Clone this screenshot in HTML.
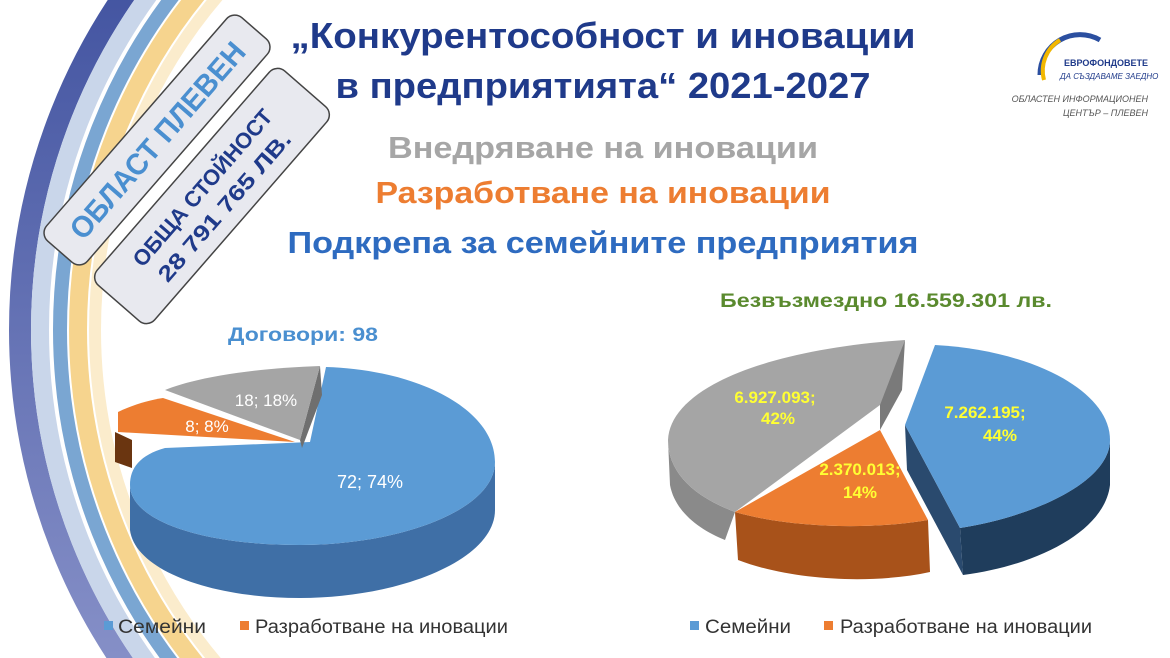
<!DOCTYPE html>
<html><head><meta charset="utf-8"><style>
html,body{margin:0;width:1170px;height:658px;overflow:hidden;background:#fff;font-family:"Liberation Sans",sans-serif}
svg{display:block}
</style></head><body>
<svg width="1170" height="658" viewBox="0 0 1170 658" xmlns="http://www.w3.org/2000/svg" font-family="Liberation Sans, sans-serif">
<defs>
<clipPath id="lc"><rect x="0" y="0" width="330" height="658"/></clipPath>
<linearGradient id="bg1" x1="0" y1="0" x2="0" y2="1"><stop offset="0" stop-color="#2b3f93"/><stop offset="1" stop-color="#9fa6d6"/></linearGradient>
</defs>
<g clip-path="url(#lc)" fill="none">
<circle cx="610" cy="330" r="590" stroke="url(#bg1)" stroke-width="22"/>
<circle cx="610" cy="330" r="570" stroke="#c9d6ea" stroke-width="18"/>
<circle cx="610" cy="330" r="550" stroke="#7aa6d2" stroke-width="14"/>
<circle cx="610" cy="330" r="532" stroke="#f6d48e" stroke-width="18"/>
<circle cx="610" cy="330" r="515" stroke="#fbeccc" stroke-width="12"/>
</g>
<g transform="translate(157,140) rotate(-49)">
<rect x="-148" y="-27" width="296" height="54" rx="11" fill="#e8e9ef" stroke="#444" stroke-width="1.5"/>
<text x="0" y="11" text-anchor="middle" font-size="30" font-weight="bold" fill="#4a8fd0" textLength="250" lengthAdjust="spacingAndGlyphs">ОБЛАСТ ПЛЕВЕН</text>
</g>
<g transform="translate(212,196) rotate(-49)">
<rect x="-142" y="-38" width="284" height="76" rx="11" fill="#e8e9ef" stroke="#444" stroke-width="1.5"/>
<text x="0" y="-5" text-anchor="middle" font-size="22" font-weight="bold" fill="#1f3a8a" textLength="200" lengthAdjust="spacingAndGlyphs">ОБЩА СТОЙНОСТ</text>
<text x="0" y="24" text-anchor="middle" font-size="22" font-weight="bold" fill="#1f3a8a" textLength="190" lengthAdjust="spacingAndGlyphs">28 791 765 ЛВ.</text>
</g>
<text x="603" y="48" text-anchor="middle" font-size="36" font-weight="bold" fill="#1f3a8a" textLength="625" lengthAdjust="spacingAndGlyphs">„Конкурентособност и иновации</text>
<text x="603" y="98" text-anchor="middle" font-size="36" font-weight="bold" fill="#1f3a8a" textLength="535" lengthAdjust="spacingAndGlyphs">в предприятията“ 2021-2027</text>
<text x="603" y="158" text-anchor="middle" font-size="31" font-weight="bold" fill="#a6a6a6" textLength="430" lengthAdjust="spacingAndGlyphs">Внедряване на иновации</text>
<text x="603" y="203" text-anchor="middle" font-size="31" font-weight="bold" fill="#ed7d31" textLength="455" lengthAdjust="spacingAndGlyphs">Разработване на иновации</text>
<text x="603" y="253" text-anchor="middle" font-size="31" font-weight="bold" fill="#2e6bc0" textLength="631" lengthAdjust="spacingAndGlyphs">Подкрепа за семейните предприятия</text>
<g>
<path d="M1040,75 A40,40 0 0 1 1100,40" fill="none" stroke="#2b4fa0" stroke-width="5"/>
<path d="M1044,80 A36,36 0 0 1 1060,40" fill="none" stroke="#f2b700" stroke-width="4"/>
<text x="1064" y="66" font-size="9" font-weight="bold" fill="#1f3a8a">ЕВРОФОНДОВЕТЕ</text>
<text x="1060" y="79" font-size="8" fill="#1f3a8a" font-style="italic">ДА СЪЗДАВАМЕ ЗАЕДНО</text>
<text x="1148" y="102" text-anchor="end" font-size="9" font-style="italic" fill="#555">ОБЛАСТЕН ИНФОРМАЦИОНЕН</text>
<text x="1148" y="116" text-anchor="end" font-size="9" font-style="italic" fill="#555">ЦЕНТЪР – ПЛЕВЕН</text>
</g>
<text x="228" y="341" font-size="19" font-weight="bold" fill="#4a8fd0" textLength="150" lengthAdjust="spacingAndGlyphs">Договори: 98</text>
<text x="720" y="307" font-size="19" font-weight="bold" fill="#5a8a2e" textLength="332" lengthAdjust="spacingAndGlyphs">Безвъзмездно 16.559.301 лв.</text>
<!-- left pie -->
<path d="M130,485 L130,530 C135,570 210,598 300,598 C400,598 495,560 495,510 L495,462 C495,510 400,545 300,545 C200,545 130,520 130,485Z" fill="#3f6fa6"/>
<path d="M310,442 L326,367 C420,370 495,410 495,462 C495,510 400,545 300,545 C200,545 130,520 130,485 C130,468 140,455 165,448 Z" fill="#5b9bd5"/>
<path d="M300,440 L320,366 L322,395 L302,448Z" fill="#6f6f6f"/>
<path d="M165,390 C200,376 260,368 320,366 L300,440 Z" fill="#a5a5a5"/>
<path d="M115,432 L115,462 L132,468 L132,440 Z" fill="#6a3510"/>
<path d="M118,412 C135,404 150,400 163,398 L295,442 L118,432Z" fill="#ed7d31"/>
<text x="266" y="406" font-size="17" fill="#fff" text-anchor="middle">18; 18%</text>
<text x="207" y="432" font-size="17" fill="#fff" text-anchor="middle">8; 8%</text>
<text x="370" y="488" font-size="18" fill="#fff" text-anchor="middle">72; 74%</text>
<!-- right pie -->
<path d="M960,528 C1040,515 1110,480 1110,440 L1110,485 C1105,530 1040,565 963,575 Z" fill="#1f3d5c"/>
<path d="M905,425 L960,528 L963,575 L907,470 Z" fill="#2a4a6e"/>
<path d="M905,425 L935,345 C1030,350 1110,390 1110,440 C1110,480 1040,515 960,528 Z" fill="#5b9bd5"/>
<path d="M668,440 L670,485 C675,512 700,530 725,540 L735,512 C690,495 668,470 668,440Z" fill="#8a8a8a"/>
<path d="M880,400 L905,340 L902,390 L880,430Z" fill="#7a7a7a"/>
<path d="M668,440 C670,390 760,350 905,340 L880,405 L735,512 C690,495 668,470 668,440 Z" fill="#a5a5a5"/>
<path d="M735,512 L738,560 C790,580 870,585 930,572 L928,520 C870,530 790,528 735,512Z" fill="#a8521a"/>
<path d="M735,512 L880,430 L928,520 C870,530 790,528 735,512 Z" fill="#ed7d31"/>
<g font-size="17" font-weight="bold" fill="#ffff33" text-anchor="middle">
<text x="775" y="403">6.927.093;</text><text x="778" y="424">42%</text>
<text x="985" y="418">7.262.195;</text><text x="1000" y="441">44%</text>
<text x="860" y="475">2.370.013;</text><text x="860" y="498">14%</text>
</g>
<g font-size="19" fill="#333">
<rect x="104" y="621" width="9" height="9" fill="#5b9bd5"/><text x="118" y="633" textLength="88" lengthAdjust="spacingAndGlyphs">Семейни</text>
<rect x="240" y="621" width="9" height="9" fill="#ed7d31"/><text x="255" y="633" textLength="253" lengthAdjust="spacingAndGlyphs">Разработване на иновации</text>
<rect x="690" y="621" width="9" height="9" fill="#5b9bd5"/><text x="705" y="633" textLength="86" lengthAdjust="spacingAndGlyphs">Семейни</text>
<rect x="824" y="621" width="9" height="9" fill="#ed7d31"/><text x="840" y="633" textLength="252" lengthAdjust="spacingAndGlyphs">Разработване на иновации</text>
</g>
</svg>
</body></html>
